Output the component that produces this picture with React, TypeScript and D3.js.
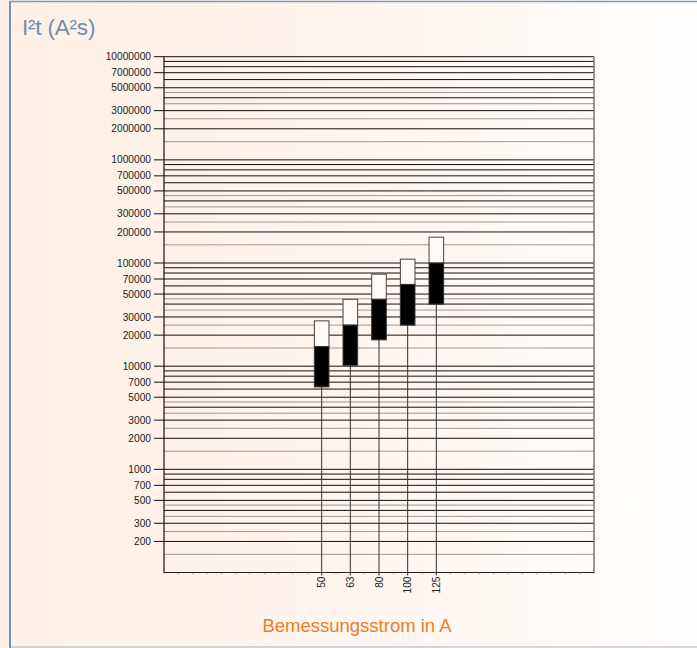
import React from "react";
import * as d3 from "d3";

const bandCount = 15;
const ratings = ["50", "63", "80", "100", "125"];
const ratingBand = [5, 6, 7, 8, 9];
const preArcMin = [6300, 10200, 18000, 25000, 40000];
const preArcMax = [15500, 25000, 44500, 62000, 100000];
const totalMax = [27500, 44500, 78000, 109000, 178000];
const yTickLabels = [
  10000000, 7000000, 5000000, 3000000, 2000000,
  1000000, 700000, 500000, 300000, 200000,
  100000, 70000, 50000, 30000, 20000,
  10000, 7000, 5000, 3000, 2000,
  1000, 700, 500, 300, 200,
];
const majorMults = [1, 2, 3, 4, 5, 6, 7, 8, 9];
const minorMults = [1.5, 2.5, 3.5, 4.5];
const decades = [100, 1000, 10000, 100000, 1000000];

export default function App() {
  const W = 697, H = 648;
  const left = 164, right = 594, top = 56.7, bottom = 572.5;
  const y = d3.scaleLog().domain([100, 1e7]).range([bottom, top]);
  const x = d3
    .scaleBand<number>()
    .domain(d3.range(bandCount))
    .range([left, right])
    .padding(0);
  const bw = x.bandwidth();
  const boxW = 14.6;

  const majorLines: number[] = [];
  const minorLines: number[] = [];
  decades.forEach((d) => {
    majorMults.forEach((m) => { if (m !== 1 || d > 100) majorLines.push(d * m); });
    minorMults.forEach((m) => minorLines.push(d * m));
  });
  majorLines.push(1e7);

  const halfTicks = d3.range(bandCount * 2 + 1).map((i) => left + (i * bw) / 2);
  const font = "'Liberation Sans', Arial, sans-serif";

  return (
    <svg width={W} height={H} style={{ position: "absolute", left: 0, top: 0 }}>
      <defs>
        <linearGradient id="bg" x1="0" y1="0" x2="1" y2="0">
          <stop offset="0" stopColor="#fdefe5" />
          <stop offset="0.6" stopColor="#fef6f0" />
          <stop offset="1" stopColor="#fffefd" />
        </linearGradient>
      </defs>
      <rect x={0} y={0} width={W} height={H} fill="url(#bg)" />
      <line x1={10} y1={1.5} x2={W} y2={1.5} stroke="#7b9dbd" strokeWidth={1.5} />
      <line x1={10} y1={1} x2={10} y2={H} stroke="#6f93b6" strokeWidth={2} />
      <line x1={11} y1={647} x2={W} y2={647} stroke="#c6cad0" strokeWidth={1.5} />
      <text x={22} y={35} fontFamily={font} fontSize={22.5} fill="#6d8fb1" letterSpacing={-0.2}>
        I²t (A²s)
      </text>

      {minorLines.map((v) => (
        <line key={"mi" + v} x1={left} x2={right} y1={y(v)} y2={y(v)} stroke="#9a9896" strokeWidth={1} />
      ))}
      {majorLines.map((v) => (
        <line key={"ma" + v} x1={left} x2={right} y1={y(v)} y2={y(v)} stroke="#111" strokeWidth={1} />
      ))}

      {yTickLabels.map((v) => (
        <g key={"t" + v}>
          <line x1={154} x2={left} y1={y(v)} y2={y(v)} stroke="#111" strokeWidth={1} />
          <text x={151} y={y(v)} dy="0.35em" textAnchor="end" fontFamily={font} fontSize={10.2} fill="#222">
            {v}
          </text>
        </g>
      ))}

      <line x1={right} x2={right} y1={top} y2={bottom} stroke="#777" strokeWidth={1.5} />
      <line x1={left} x2={left} y1={top} y2={bottom} stroke="#111" strokeWidth={1.2} />
      <line x1={left} x2={right} y1={bottom} y2={bottom} stroke="#222" strokeWidth={1.2} />
      {halfTicks.map((t, i) => (
        <line key={"ht" + i} x1={t} x2={t} y1={bottom} y2={bottom + 1.5} stroke="#888" strokeWidth={1} />
      ))}

      {ratings.map((r, i) => {
        const cx = (x(ratingBand[i]) as number) + bw / 2;
        return (
          <g key={r}>
            <line x1={cx} x2={cx} y1={y(preArcMin[i])} y2={bottom + 3} stroke="#333" strokeWidth={1} />
            <rect
              x={cx - boxW / 2}
              y={y(totalMax[i])}
              width={boxW}
              height={y(preArcMax[i]) - y(totalMax[i])}
              fill="#fffaf6"
              stroke="#444"
              strokeWidth={1}
            />
            <rect
              x={cx - boxW / 2}
              y={y(preArcMax[i])}
              width={boxW}
              height={y(preArcMin[i]) - y(preArcMax[i])}
              fill="#000"
              stroke="#333"
              strokeWidth={1}
            />
            <text
              transform={`translate(${cx},${bottom + 4}) rotate(-90)`}
              dy="0.35em"
              textAnchor="end"
              fontFamily={font}
              fontSize={10.2}
              fill="#222"
            >
              {r}
            </text>
          </g>
        );
      })}

      <text x={357} y={632} textAnchor="middle" fontFamily={font} fontSize={18.5} fill="#f07b2a">
        Bemessungsstrom in A
      </text>
    </svg>
  );
}
